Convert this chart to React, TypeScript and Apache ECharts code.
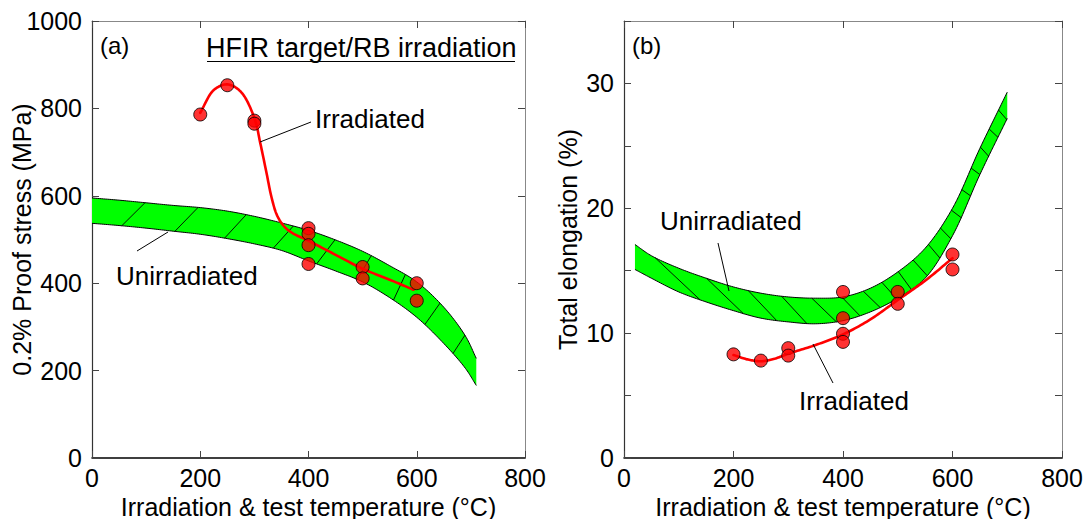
import React, { useEffect, useRef } from "react";
import * as echarts from "echarts";

const FONT = "'Liberation Sans', Arial, sans-serif";

// ---------- shared axis ticks ----------
const tempMin = 0;
const tempMax = 800;
const tempStep = 200;

// ---------- Panel (a): 0.2% proof stress ----------
const bandAX = [0, 50, 100, 150, 200, 250, 300, 350, 400, 450, 500, 550, 600, 650, 690, 710];
const bandAUpper = [595, 590, 584, 578, 573, 565, 553, 538, 521, 499, 473, 440, 403, 345, 279, 228];
const bandALower = [537, 532, 526, 519, 512, 502, 490, 475, 451, 428, 403, 367, 322, 262, 205, 166];
// hatch strokes: [temperature on lower edge, temperature on upper edge]
const hatchA = [
  [55, 98], [153, 196], [245, 285], [335, 372], [415, 449], [490, 516], [557, 579], [615, 643], [667, 689],
];
const irrAX = [200, 250, 300, 300, 400, 400, 400, 400, 500, 500, 600, 600];
const irrAY = [786, 853, 772, 765, 526, 513, 487, 444, 437, 411, 400, 360];
const curveAX = [200, 225, 250, 275, 300, 311, 322, 332, 342, 355, 370, 400, 450, 500, 550, 594];
const curveAY = [790, 842, 855, 838, 778, 720, 655, 595, 555, 530, 515, 497, 465, 433, 408, 385];

// ---------- Panel (b): total elongation ----------
const bandBX = [20, 50, 100, 150, 200, 250, 300, 350, 400, 450, 500, 550, 600, 650, 700];
const bandBUpper = [17.1, 16.2, 15.2, 14.4, 13.7, 13.2, 12.9, 12.8, 12.9, 13.6, 14.9, 16.8, 20.0, 24.8, 29.3];
const bandBLower = [15.1, 14.4, 13.3, 12.5, 11.8, 11.2, 10.9, 10.75, 11.0, 11.7, 12.8, 14.4, 17.8, 22.7, 27.2];
// hatch strokes: [temperature on upper edge, temperature on lower edge]
const hatchB = [
  [57, 139], [151, 218], [227, 279], [288, 334], [343, 388], [398, 431], [437, 468], [471, 498],
  [501, 525], [528, 554], [556, 577], [578, 597], [598, 616], [617, 633], [634, 650], [651, 666],
  [667, 683], [684, 699],
];
const irrBX = [200, 250, 300, 300, 400, 400, 400, 400, 500, 500, 600, 600];
const irrBY = [8.3, 7.8, 8.8, 8.2, 13.3, 11.2, 9.95, 9.3, 13.3, 12.35, 16.3, 15.1];
const curveBX = [200, 225, 250, 275, 300, 350, 400, 450, 500, 550, 600];
const curveBY = [8.25, 7.9, 7.75, 7.95, 8.35, 9.05, 9.9, 11.1, 12.65, 14.2, 16.0];

// ---------- helpers ----------
function catmull(pts: number[][], steps = 14): number[][] {
  const n = pts.length;
  if (n < 2) return pts;
  const P = [
    [2 * pts[0][0] - pts[1][0], 2 * pts[0][1] - pts[1][1]],
    ...pts,
    [2 * pts[n - 1][0] - pts[n - 2][0], 2 * pts[n - 1][1] - pts[n - 2][1]],
  ];
  const out: number[][] = [];
  const d = (a: number[], b: number[]) => Math.max(1e-6, Math.pow(Math.hypot(b[0] - a[0], b[1] - a[1]), 0.5));
  for (let i = 1; i < P.length - 2; i++) {
    const p0 = P[i - 1], p1 = P[i], p2 = P[i + 1], p3 = P[i + 2];
    const t0 = 0, t1 = t0 + d(p0, p1), t2 = t1 + d(p1, p2), t3 = t2 + d(p2, p3);
    for (let s = 0; s < steps; s++) {
      const t = t1 + ((t2 - t1) * s) / steps;
      const pt = [0, 1].map((k) => {
        const A1 = ((t1 - t) / (t1 - t0)) * p0[k] + ((t - t0) / (t1 - t0)) * p1[k];
        const A2 = ((t2 - t) / (t2 - t1)) * p1[k] + ((t - t1) / (t2 - t1)) * p2[k];
        const A3 = ((t3 - t) / (t3 - t2)) * p2[k] + ((t - t2) / (t3 - t2)) * p3[k];
        const B1 = ((t2 - t) / (t2 - t0)) * A1 + ((t - t0) / (t2 - t0)) * A2;
        const B2 = ((t3 - t) / (t3 - t1)) * A2 + ((t - t1) / (t3 - t1)) * A3;
        return ((t2 - t) / (t2 - t1)) * B1 + ((t - t1) / (t2 - t1)) * B2;
      });
      out.push(pt);
    }
  }
  out.push(pts[n - 1]);
  return out;
}

function yAtX(dense: number[][], px: number): number {
  for (let i = 0; i < dense.length - 1; i++) {
    const a = dense[i], b = dense[i + 1];
    if ((px >= a[0] && px <= b[0]) || (px <= a[0] && px >= b[0])) {
      const f = b[0] === a[0] ? 0 : (px - a[0]) / (b[0] - a[0]);
      return a[1] + f * (b[1] - a[1]);
    }
  }
  return dense[px < dense[0][0] ? 0 : dense.length - 1][1];
}

function bandRenderer(xs: number[], up: number[], lo: number[], hatch: number[][], fromLower: boolean) {
  return (_params: any, api: any) => {
    const U = catmull(xs.map((x, i) => api.coord([x, up[i]])));
    const L = catmull(xs.map((x, i) => api.coord([x, lo[i]])));
    const poly = U.concat(L.slice().reverse());
    const children: any[] = [
      { type: "polygon", shape: { points: poly }, style: { fill: "#00ff00", stroke: null } },
      { type: "polyline", shape: { points: U }, style: { stroke: "#000", lineWidth: 1, fill: null } },
      { type: "polyline", shape: { points: L }, style: { stroke: "#000", lineWidth: 1, fill: null } },
    ];
    hatch.forEach(([a, b]) => {
      const pa = api.coord([a, 0])[0];
      const pb = api.coord([b, 0])[0];
      const y1 = yAtX(fromLower ? L : U, pa);
      const y2 = yAtX(fromLower ? U : L, pb);
      children.push({
        type: "line",
        shape: { x1: pa, y1, x2: pb, y2 },
        style: { stroke: "#000", lineWidth: 0.9 },
      });
    });
    return { type: "group", children };
  };
}

function curveRenderer(xs: number[], ys: number[]) {
  return (_params: any, api: any) => {
    const pts = catmull(xs.map((x, i) => api.coord([x, ys[i]])));
    return {
      type: "polyline",
      shape: { points: pts },
      style: { stroke: "#ff0000", lineWidth: 2.6, fill: null, lineCap: "round", lineJoin: "round" },
    };
  };
}

const labelStyle = { fontSize: 25, color: "#000", fontFamily: FONT };
const nameStyle = { fontSize: 25, color: "#000", fontFamily: FONT, lineHeight: 25 };

function xAxes(gridIndex: number) {
  return [
    {
      type: "value", gridIndex, min: tempMin, max: tempMax, interval: tempStep, position: "bottom",
      name: "Irradiation & test temperature (°C)", nameLocation: "middle", nameGap: 36, nameTextStyle: nameStyle,
      nameMoveOverlap: false,
      axisLine: { show: true, onZero: false, lineStyle: { color: "#000", width: 1.5 } },
      axisTick: { show: true, inside: true, length: 7, lineStyle: { color: "#444" } },
      axisLabel: { ...labelStyle, margin: 7, formatter: (v: number) => String(v) },
      splitLine: { show: false },
    },
    {
      type: "value", gridIndex, min: tempMin, max: tempMax, interval: tempStep, position: "top",
      axisLine: { show: true, onZero: false, lineStyle: { color: "#888", width: 1 } },
      axisTick: { show: true, inside: true, length: 7, lineStyle: { color: "#444" } },
      axisLabel: { show: false },
      splitLine: { show: false },
    },
  ];
}

function yAxes(gridIndex: number, max: number, interval: number, name: string, nameGap: number, fmt: (v: number) => string) {
  return [
    {
      type: "value", gridIndex, min: 0, max, interval, position: "left",
      name, nameLocation: "middle", nameGap, nameTextStyle: nameStyle, nameMoveOverlap: false,
      axisLine: { show: true, onZero: false, lineStyle: { color: "#333", width: 1.2 } },
      axisTick: { show: true, inside: true, length: 7, lineStyle: { color: "#444" } },
      axisLabel: { ...labelStyle, margin: 10, formatter: fmt },
      splitLine: { show: false },
    },
    {
      type: "value", gridIndex, min: 0, max, interval, position: "right",
      axisLine: { show: true, onZero: false, lineStyle: { color: "#888", width: 1 } },
      axisTick: { show: true, inside: true, length: 7, lineStyle: { color: "#444" } },
      axisLabel: { show: false },
      splitLine: { show: false },
    },
  ];
}

function textEl(text: string, left: number, y: number, size = 26) {
  return {
    type: "text", left, top: y - size * 0.58,
    style: { text, fontSize: size, fontFamily: FONT, fill: "#000" },
    z: 10,
  };
}
function lineEl(x1: number, y1: number, x2: number, y2: number) {
  return { type: "line", shape: { x1, y1, x2, y2 }, style: { stroke: "#000", lineWidth: 1 }, z: 10 };
}

export default function App() {
  const ref = useRef<HTMLDivElement>(null);
  useEffect(() => {
    if (!ref.current) return;
    const chart = echarts.init(ref.current, undefined, { renderer: "svg" });
    const scatterStyle = { color: "#ff0000", borderColor: "#000", borderWidth: 1 };
    chart.setOption({
      animation: false,
      backgroundColor: "#fff",
      textStyle: { fontFamily: FONT },
      grid: [
        { left: 92, top: 21, width: 433, height: 437, containLabel: false, outerBoundsMode: "none" },
        { left: 624, top: 21, width: 438, height: 437, containLabel: false, outerBoundsMode: "none" },
      ],
      xAxis: [...xAxes(0), ...xAxes(1)],
      yAxis: [
        ...yAxes(0, 1000, 200, "0.2% Proof stress (MPa)", 58, (v: number) => String(v)),
        ...yAxes(1, 35, 5, "Total elongation (%)", 44, (v: number) => (v % 10 === 0 ? String(v) : "")),
      ],
      series: [
        {
          type: "custom", xAxisIndex: 0, yAxisIndex: 0, data: [[0, 0]], silent: true, z: 1,
          renderItem: bandRenderer(bandAX, bandAUpper, bandALower, hatchA, true),
        },
        {
          type: "custom", xAxisIndex: 0, yAxisIndex: 0, data: [[0, 0]], silent: true, z: 2,
          renderItem: curveRenderer(curveAX, curveAY),
        },
        {
          type: "scatter", xAxisIndex: 0, yAxisIndex: 0, symbolSize: 13, z: 3,
          data: irrAX.map((x, i) => [x, irrAY[i]]), itemStyle: scatterStyle,
        },
        {
          type: "custom", xAxisIndex: 2, yAxisIndex: 2, data: [[0, 0]], silent: true, z: 1,
          renderItem: bandRenderer(bandBX, bandBUpper, bandBLower, hatchB, false),
        },
        {
          type: "custom", xAxisIndex: 2, yAxisIndex: 2, data: [[0, 0]], silent: true, z: 2,
          renderItem: curveRenderer(curveBX, curveBY),
        },
        {
          type: "scatter", xAxisIndex: 2, yAxisIndex: 2, symbolSize: 13, z: 3,
          data: irrBX.map((x, i) => [x, irrBY[i]]), itemStyle: scatterStyle,
        },
      ],
      graphic: [
        textEl("(a)", 100, 47, 24),
        textEl("HFIR target/RB irradiation", 206, 50, 27),
        lineEl(207, 61.5, 515, 61.5),
        textEl("Irradiated", 315, 121, 26),
        lineEl(260, 142, 311, 122),
        textEl("Unirradiated", 116, 278, 26),
        lineEl(137, 251, 168, 232),
        textEl("(b)", 632, 47, 24),
        textEl("Unirradiated", 660, 223, 26),
        lineEl(718, 243, 729, 291),
        textEl("Irradiated", 799, 403, 26),
        lineEl(813, 344, 833, 383),
      ],
    });
    return () => chart.dispose();
  }, []);
  return <div ref={ref} style={{ position: "absolute", left: 0, top: 0, width: 1083, height: 519 }} />;
}
